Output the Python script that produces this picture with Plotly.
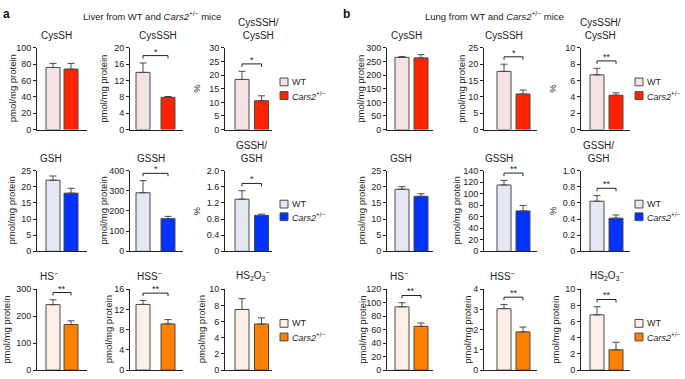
import plotly.graph_objects as go

W, H = 685, 379

# ---------------- data (mean, upper SEM) : [WT, Cars2+/-] ----------------
liver_cyssh = [76, 74];        liver_cyssh_err = [5, 7]
liver_cysssh = [14.0, 7.9];    liver_cysssh_err = [2.3, 0.2]
liver_cys_ratio = [18.4, 10.6]; liver_cys_ratio_err = [3.0, 1.8]
liver_gsh = [22.0, 18.0];      liver_gsh_err = [1.3, 1.5]
liver_gssh = [290, 162];       liver_gssh_err = [60, 11]
liver_gsh_ratio = [1.29, 0.89]; liver_gsh_ratio_err = [0.21, 0.03]
liver_hs = [243, 169];         liver_hs_err = [18, 14]
liver_hss = [13.0, 9.15];      liver_hss_err = [0.8, 0.85]
liver_hs2o3 = [7.5, 5.7];      liver_hs2o3_err = [1.34, 0.76]

lung_cyssh = [265, 263];       lung_cyssh_err = [3, 12]
lung_cysssh = [17.8, 10.9];    lung_cysssh_err = [2.2, 1.2]
lung_cys_ratio = [6.7, 4.2];   lung_cys_ratio_err = [0.8, 0.3]
lung_gsh = [19.2, 17.0];       lung_gsh_err = [0.8, 0.8]
lung_gssh = [115, 70];         lung_gssh_err = [8, 9.5]
lung_gsh_ratio = [0.62, 0.41]; lung_gsh_ratio_err = [0.07, 0.04]
lung_hs = [94, 65];            lung_hs_err = [6, 5]
lung_hss = [3.04, 1.89];       lung_hss_err = [0.21, 0.24]
lung_hs2o3 = [6.84, 2.52];     lung_hs2o3_err = [1.0, 0.92]

# axis maxima and tick steps
liver_ymax = [100, 20, 30, 25, 400, 2.0, 300, 16, 10]
liver_dtick = [20, 4, 5, 5, 100, 0.4, 100, 4, 2]
lung_ymax = [300, 25, 10, 25, 140, 1.0, 120, 4, 10]
lung_dtick = [50, 5, 2, 5, 20, 0.2, 20, 1, 2]

liver_sig = ["", "*", "*", "", "*", "*", "**", "**", ""]
lung_sig = ["", "*", "**", "", "**", "**", "**", "**", "**"]

titles = ["CysSH", "CysSSH", "CysSSH/<br>CysSH",
          "GSH", "GSSH", "GSSH/<br>GSH",
          "HS<sup>−</sup>", "HSS<sup>−</sup>", "HS<sub>2</sub>O<sub>3</sub><sup>−</sup>"]
ytitles = ["pmol/mg protein", "pmol/mg protein", "%",
           "pmol/mg protein", "pmol/mg protein", "%",
           "pmol/mg protein", "pmol/mg protein", "pmol/mg protein"]

legend_labels = ["WT", "<i>Cars2</i><sup>+/−</sup>"]
headers = ["Liver from WT and <i>Cars2</i><sup>+/−</sup> mice",
           "Lung from WT and <i>Cars2</i><sup>+/−</sup> mice"]

# ---------------- styles / layout geometry (pixels) ----------------
row_colors = [("#f5e2e2", "#ff2300"), ("#e3e8f2", "#0033ff"), ("#fdefe5", "#ff7f00")]
edge = "#4a4a4a"
axc = "#222222"
FONT = "Liberation Sans, Arial, sans-serif"

# per column: axis left, WT center, KO center, axis right
cols_px = [(37, 53, 71, 87), (130, 143, 168, 183), (225, 242, 261.5, 272),
           (387, 402, 421, 433), (484, 504, 523, 537), (581, 597, 616, 630)]
rows_px = [(44, 128), (170, 253), (292, 375)]
barw_px = 14
# title placement: (x px, anchor)
title_pos = [
    [(39, "left"), (137, "left"), (258, "center")],
    [(38, "left"), (135, "left"), (251, "center")],
    [(38, "left"), (135, "left"), (234, "left")],
    [(389, "left"), (483, "left"), (600, "center")],
    [(388, "left"), (483, "left"), (598, "center")],
    [(388, "left"), (488, "left"), (588, "left")],
]
ytitle_x = [
    [12.5, 104, 197], [11.5, 103.5, 196.5], [7, 108.5, 201.5],
    [361, 462, 553], [361.5, 456.5, 553], [363, 468, 556],
]
legend_x = [280, 635]
legend_y = [(79, 93), (204.5, 217.5), (327, 341)]

panels = [
    (liver_cyssh, liver_cyssh_err), (liver_cysssh, liver_cysssh_err), (liver_cys_ratio, liver_cys_ratio_err),
    (liver_gsh, liver_gsh_err), (liver_gssh, liver_gssh_err), (liver_gsh_ratio, liver_gsh_ratio_err),
    (liver_hs, liver_hs_err), (liver_hss, liver_hss_err), (liver_hs2o3, liver_hs2o3_err),
    (lung_cyssh, lung_cyssh_err), (lung_cysssh, lung_cysssh_err), (lung_cys_ratio, lung_cys_ratio_err),
    (lung_gsh, lung_gsh_err), (lung_gssh, lung_gssh_err), (lung_gsh_ratio, lung_gsh_ratio_err),
    (lung_hs, lung_hs_err), (lung_hss, lung_hss_err), (lung_hs2o3, lung_hs2o3_err),
]
ymaxs = liver_ymax + lung_ymax
dticks = liver_dtick + lung_dtick
sigs = liver_sig + lung_sig


def fx(px):
    return px / W


def fy(py):
    return 1 - py / H


def ticktext(v, step):
    if abs(v) < 1e-9:
        return "0"
    if step < 1:
        return f"{v:.1f}"
    return f"{v:g}"


fig = go.Figure()
layout = dict(width=W, height=H, margin=dict(l=0, r=0, t=0, b=0),
              paper_bgcolor="white", plot_bgcolor="white", showlegend=False,
              font=dict(family=FONT, size=9, color="#222"))
shapes, annots = [], []

for k, (vals, errs) in enumerate(panels):
    panel = k // 9
    j = k % 9
    r, c = j // 3, j % 3
    col = cols_px[panel * 3 + c]
    top, bot = rows_px[r]
    x0, c0, c1, x1 = col
    s = c1 - c0
    rng = [-(c0 - x0) / s, 1 + (x1 - c1) / s]
    ymax, dt = ymaxs[k], dticks[k]
    n = k + 1
    xa, ya = f"x{n}", f"y{n}"
    xs = "" if n == 1 else str(n)
    wt_c, ko_c = row_colors[r]

    fig.add_trace(go.Bar(
        x=[0, 1], y=vals, xaxis=xa, yaxis=ya, width=barw_px / s,
        marker=dict(color=[wt_c, ko_c], line=dict(color=edge, width=1)),
        error_y=dict(type="data", symmetric=False, array=errs, arrayminus=[0, 0],
                     color=edge, thickness=1, width=3.5),
        hoverinfo="y"))

    ticks = []
    v = 0.0
    while v <= ymax + 1e-9:
        ticks.append(round(v, 6))
        v += dt
    layout["xaxis" + xs] = dict(domain=[fx(x0), fx(x1)], range=rng, anchor=ya,
                                showline=True, linecolor=axc, linewidth=1,
                                showticklabels=False, ticks="", showgrid=False,
                                zeroline=False, fixedrange=True)
    layout["yaxis" + xs] = dict(domain=[fy(bot), fy(top)], range=[0, ymax], anchor=xa,
                                tickvals=ticks, ticktext=[ticktext(t, dt) for t in ticks],
                                ticks="outside", ticklen=3, tickwidth=1, tickcolor=axc,
                                showline=True, linecolor=axc, linewidth=1,
                                showgrid=False, zeroline=False, fixedrange=True,
                                tickfont=dict(size=9, color="#222"))

    # subplot title
    tx, tanch = title_pos[panel * 3 + r][c]
    annots.append(dict(xref="paper", yref="paper", x=fx(tx), y=fy(top - 5),
                       xanchor=tanch, yanchor="bottom", text=titles[j], showarrow=False,
                       font=dict(size=10, color="#222"), align="center"))
    # y title
    annots.append(dict(xref="paper", yref="paper", x=fx(ytitle_x[panel * 3 + r][c]),
                       y=fy((top + bot) / 2), xanchor="center", yanchor="middle",
                       text=ytitles[j], textangle=-90, showarrow=False,
                       font=dict(size=9.5, color="#222")))

    # significance bracket
    if sigs[k]:
        hpx = bot - top
        h = max(a + b for a, b in zip(vals, errs)) + 0.09 * ymax
        d = 3.0 / hpx * ymax
        shapes.append(dict(type="path", xref=xa, yref=ya,
                           path=f"M0,{h - d} L0,{h} L1,{h} L1,{h - d}",
                           line=dict(color=axc, width=1)))
        annots.append(dict(xref=xa, yref=ya, x=0.5, y=h, yanchor="bottom",
                           yshift=-3, text=sigs[k], showarrow=False,
                           font=dict(size=9, color="#222")))

# legends
for p in range(2):
    lx = legend_x[p]
    for r in range(3):
        for g in range(2):
            cy = legend_y[r][g]
            shapes.append(dict(type="rect", xref="paper", yref="paper",
                               x0=fx(lx), x1=fx(lx + 8), y0=fy(cy + 4), y1=fy(cy - 4),
                               fillcolor=row_colors[r][g], line=dict(color=edge, width=1)))
            annots.append(dict(xref="paper", yref="paper", x=fx(lx + 10), y=fy(cy),
                               xanchor="left", yanchor="middle", text=legend_labels[g],
                               showarrow=False, font=dict(size=9, color="#222")))

# panel headers
annots.append(dict(xref="paper", yref="paper", x=fx(1), y=fy(9), xanchor="left",
                   yanchor="middle", text="<b>a</b>", showarrow=False,
                   font=dict(size=12, color="#111")))
annots.append(dict(xref="paper", yref="paper", x=fx(341), y=fy(9), xanchor="left",
                   yanchor="middle", text="<b>b</b>", showarrow=False,
                   font=dict(size=12, color="#111")))
annots.append(dict(xref="paper", yref="paper", x=fx(152), y=fy(11), xanchor="center",
                   yanchor="middle", text=headers[0], showarrow=False,
                   font=dict(size=9.5, color="#222")))
annots.append(dict(xref="paper", yref="paper", x=fx(494.5), y=fy(11), xanchor="center",
                   yanchor="middle", text=headers[1], showarrow=False,
                   font=dict(size=9.5, color="#222")))

layout["shapes"] = shapes
layout["annotations"] = annots
fig.update_layout(**layout)
fig.write_html("out.html",
               config={"displayModeBar": False, "staticPlot": True},
               post_script="document.body.style.margin='0';document.body.style.padding='0';"
                           "document.body.style.overflow='hidden';")
